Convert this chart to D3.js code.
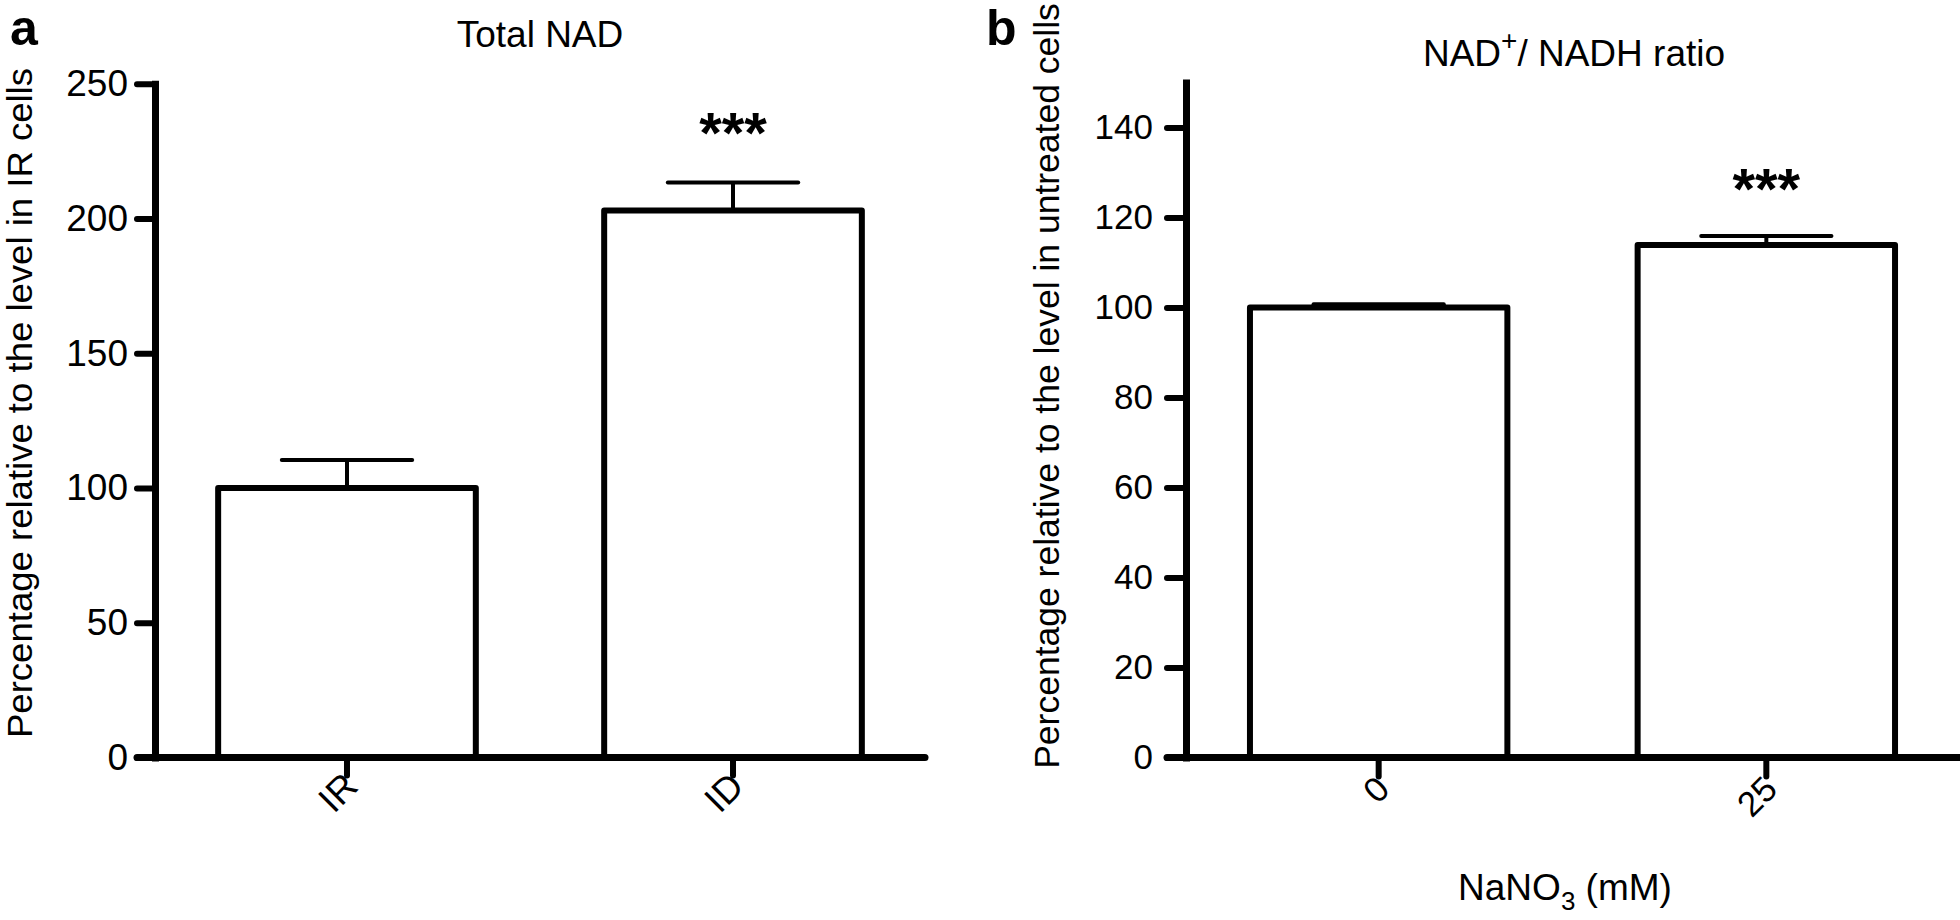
<!DOCTYPE html>
<html>
<head>
<meta charset="utf-8">
<script src="https://cdn.jsdelivr.net/npm/d3@7/dist/d3.min.js"></script>
<style>
  html, body { margin: 0; padding: 0; background: #fff; }
  svg { display: block; }
  text { font-family: "Liberation Sans", Arial, Helvetica, sans-serif; fill: #000; }
</style>
</head>
<body>
<svg id="chart" width="1960" height="920"></svg>
<script>
// ---------- data ----------
const catsA = ["IR", "ID"];
const meansA = [100, 203];
const errsA = [10.4, 10.4];
const sigA = ["", "***"];
const ticksA = [0, 50, 100, 150, 200, 250];

const catsB = ["0", "25"];
const meansB = [100, 113.9];
const errsB = [0.7, 2.0];
const sigB = ["", "***"];
const ticksB = [0, 20, 40, 60, 80, 100, 120, 140];

const svg = d3.select("#chart");
const FONT = "\"Liberation Sans\", Arial, sans-serif";

function panel(cfg) {
  const g = svg.append("g");
  const y = d3.scaleLinear().domain(cfg.yDomain).range([cfg.y0, cfg.y1]);
  const x = d3.scaleBand().domain(cfg.cats).range([cfg.axisX, cfg.xEnd])
    .paddingInner(cfg.padIn).paddingOuter(cfg.padOut);

  cfg.cats.forEach((c, i) => {
    const x0 = x(c), x1 = x(c) + x.bandwidth();
    const yt = y(cfg.means[i]), yb = y(0);
    g.append("path")
      .attr("d", `M${x0},${yb} L${x0},${yt} L${x1},${yt} L${x1},${yb}`)
      .attr("fill", "#fff").attr("stroke", "#000").attr("stroke-width", 6)
      .attr("stroke-linejoin", "round");
    const cx = x(c) + x.bandwidth() / 2;
    const ye = y(cfg.means[i] + cfg.errs[i]);
    const capHalf = x.bandwidth() * 0.253;
    g.append("line").attr("x1", cx).attr("x2", cx).attr("y1", yt).attr("y2", ye)
      .attr("stroke", "#000").attr("stroke-width", 4);
    g.append("line").attr("x1", cx - capHalf).attr("x2", cx + capHalf).attr("y1", ye).attr("y2", ye)
      .attr("stroke", "#000").attr("stroke-width", 4).attr("stroke-linecap", "round");
    if (cfg.sig[i]) {
      g.append("text").attr("x", cx).attr("y", ye - cfg.starOff)
        .attr("text-anchor", "middle").attr("font-size", 58).attr("font-weight", "bold")
        .text(cfg.sig[i]);
    }
  });

  const yAxis = d3.axisLeft(y).tickValues(cfg.ticks).tickSize(cfg.tickLen).tickPadding(cfg.tickPad).tickSizeOuter(0);
  const ya = g.append("g").attr("transform", `translate(${cfg.axisX},0)`).call(yAxis);
  ya.select(".domain").attr("stroke-width", 7).attr("stroke-linecap", "square");
  ya.selectAll(".tick line").attr("stroke-width", 6).attr("stroke-linecap", "round");
  ya.selectAll(".tick text").attr("font-size", cfg.tickFont).attr("font-family", FONT);

  const xAxis = d3.axisBottom(x).tickSize(cfg.tickLen).tickSizeOuter(0).tickFormat(() => "");
  const xa = g.append("g").attr("transform", `translate(0,${cfg.y0})`).call(xAxis);
  xa.select(".domain").attr("d", `M${cfg.axisX - cfg.tickLen},0H${cfg.xEnd}`)
    .attr("stroke-width", 7).attr("stroke-linecap", "round");
  xa.selectAll(".tick line").attr("stroke-width", 6).attr("stroke-linecap", "round");
  cfg.cats.forEach(c => {
    const cx = x(c) + x.bandwidth() / 2;
    g.append("text")
      .attr("transform", `translate(${cx + cfg.xlabDx},${cfg.y0 + cfg.xlabDy}) rotate(-45)`)
      .attr("text-anchor", "end").attr("font-size", cfg.tickFont)
      .attr("dominant-baseline", "central")
      .text(c);
  });
  return { x, y, g };
}

const A = panel({
  cats: catsA, means: meansA, errs: errsA, sig: sigA, ticks: ticksA,
  yDomain: [0, 250], y0: 757.5, y1: 83.75,
  axisX: 155, xEnd: 925, padIn: 0.3325, padOut: 0.1636,
  tickLen: 18, tickPad: 9, tickFont: 37, starOff: 29,
  xlabDx: 4, xlabDy: 22
});
const B = panel({
  cats: catsB, means: meansB, errs: errsB, sig: sigB, ticks: ticksB,
  yDomain: [0, 150], y0: 757.5, y1: 82.5,
  axisX: 1186, xEnd: 1959, padIn: 0.336, padOut: 0.165,
  tickLen: 19, tickPad: 14, tickFont: 35, starOff: 27,
  xlabDx: 4, xlabDy: 25
});

// panel letters
svg.append("text").attr("x", 10).attr("y", 45).attr("font-size", 50).attr("font-weight", "bold").text("a");
svg.append("text").attr("x", 986).attr("y", 45).attr("font-size", 50).attr("font-weight", "bold").text("b");

// titles
svg.append("text").attr("x", 540).attr("y", 47).attr("text-anchor", "middle").attr("font-size", 37).text("Total NAD");
const tb = svg.append("text").attr("x", 1574).attr("y", 66).attr("text-anchor", "middle").attr("font-size", 37);
tb.append("tspan").text("NAD");
tb.append("tspan").attr("dy", -16).attr("font-size", 28).text("+");
tb.append("tspan").attr("dy", 16).text("/ NADH ratio");

// y labels
svg.append("text").attr("transform", "translate(32,403) rotate(-90)")
  .attr("text-anchor", "middle").attr("font-size", 35)
  .attr("textLength", 670).attr("lengthAdjust", "spacingAndGlyphs")
  .text("Percentage relative to the level in IR cells");
svg.append("text").attr("transform", "translate(1059,386) rotate(-90)")
  .attr("text-anchor", "middle").attr("font-size", 35.5)
  .text("Percentage relative to the level in untreated cells");

// x label panel b
const xl = svg.append("text").attr("x", 1565).attr("y", 900).attr("text-anchor", "middle").attr("font-size", 37);
xl.append("tspan").text("NaNO");
xl.append("tspan").attr("dy", 10).attr("font-size", 26).text("3");
xl.append("tspan").attr("dy", -10).text(" (mM)");
</script>
</body>
</html>
